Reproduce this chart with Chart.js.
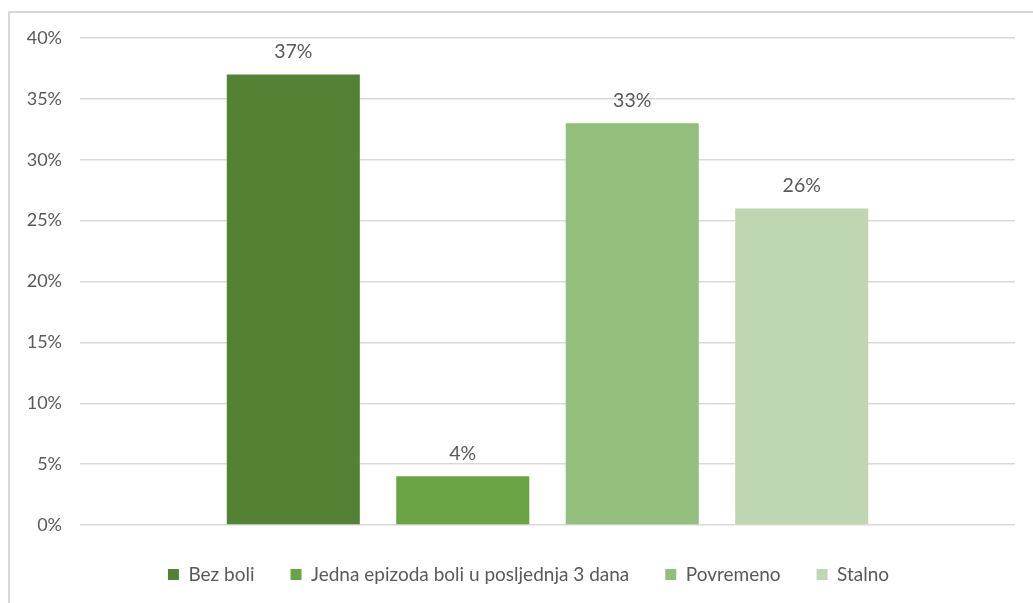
<!DOCTYPE html>
<html>
<head>
<meta charset="utf-8">
<script src="https://cdn.jsdelivr.net/npm/chart.js@4/dist/chart.umd.min.js"></script>
<style>
    html, body { margin: 0; padding: 0; background: #fff; }
    #wrap { position: relative; width: 1033px; height: 603px; overflow: hidden; }
    #frame { position: absolute; left: 8px; top: 11px; width: 1100px; height: 700px;
             border-top: 2px solid #d9d9d9; border-left: 2px solid #d9d9d9; }
    #chart { position: absolute; left: 0; top: 0; }
</style>
</head>
<body>
<div id="wrap">
    <div id="frame"></div>
    <canvas id="chart" width="1033" height="603"></canvas>
</div>
<script>
const categories = [''];
const seriesNames = ['Bez boli', 'Jedna epizoda boli u posljednja 3 dana', 'Povremeno', 'Stalno'];
const seriesValues = [37, 4, 33, 26];
const seriesColors = ['#548235', '#6aa343', '#93bf7c', '#bed6b2'];
const tickLabels = ['0%', '5%', '10%', '15%', '20%', '25%', '30%', '35%', '40%'];

const textColor = '#595959';
const fontFamily = 'Lato, "Noto Sans", sans-serif';

document.addEventListener('DOMContentLoaded', function() {
    showChart();
});

const valueLabels = {
    id: 'valueLabels',
    afterDatasetsDraw(chart) {
        const ctx = chart.ctx;
        ctx.save();
        ctx.fillStyle = textColor;
        ctx.font = '19.5px ' + fontFamily;
        ctx.textAlign = 'center';
        ctx.textBaseline = 'middle';
        chart.data.datasets.forEach(function(ds, i) {
            chart.getDatasetMeta(i).data.forEach(function(bar, j) {
                ctx.fillText(ds.data[j] + '%', bar.x, bar.y - 23);
            });
        });
        ctx.restore();
    }
};

// legend sits a bit lower and more to the right, like the excel one
const legendFit = {
    id: 'legendFit',
    beforeInit(chart) {
        const fit = chart.legend.fit;
        chart.legend.fit = function() {
            fit.bind(chart.legend)();
            this.height = 74;
        };
    },
    afterLayout(chart) {
        chart.legend.left += 21;
        chart.legend.right += 21;
    }
};

function showChart() {
    const canvasChart = document.getElementById('chart')?.getContext('2d');
    if(canvasChart) {
        new Chart(canvasChart, {
            type: 'bar',
            data: {
                labels: categories,
                datasets: seriesNames.map(function(name, i) {
                    return {
                        label: name,
                        data: [seriesValues[i]],
                        backgroundColor: seriesColors[i],
                        borderWidth: 0,
                        categoryPercentage: 0.725,
                        barPercentage: 0.785
                    };
                })
            },
            plugins: [valueLabels, legendFit],
            options: {
                responsive: false,
                animation: false,
                layout: { padding: { top: 38, right: 18, bottom: 0, left: 0 } },
                plugins: {
                    tooltip: { enabled: false },
                    legend: {
                        position: 'bottom',
                        labels: {
                            boxWidth: 11,
                            boxHeight: 11,
                            padding: 36,
                            color: textColor,
                            font: { family: fontFamily, size: 19 }
                        }
                    }
                },
                scales: {
                    x: {
                        grid: { display: false },
                        border: { display: false },
                        ticks: { display: false },
                        afterFit: function(scale) { scale.height = 4; }
                    },
                    y: {
                        min: 0,
                        max: 40,
                        ticks: {
                            stepSize: 5,
                            padding: 18,
                            color: textColor,
                            font: { family: fontFamily, size: 18 },
                            callback: function(value, index) { return tickLabels[index]; }
                        },
                        grid: { color: '#d9d9d9', lineWidth: 1.5, drawTicks: false },
                        border: { display: false },
                        afterFit: function(scale) { scale.width = 80; }
                    }
                }
            }
        });
    };
};
</script>
</body>
</html>
